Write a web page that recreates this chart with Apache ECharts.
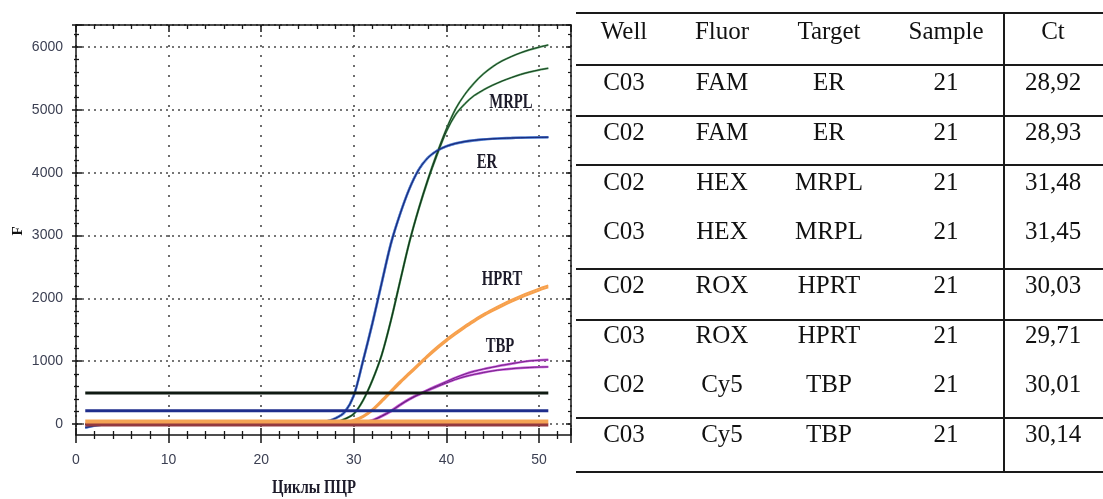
<!DOCTYPE html>
<html>
<head>
<meta charset="utf-8">
<script src="https://cdn.jsdelivr.net/npm/echarts@6/dist/echarts.min.js"></script>
<style>
html,body{margin:0;padding:0;background:#fff;}
#c{width:1103px;height:499px;}
</style>
</head>
<body>
<div id="c"></div>
<script>
// ---------------- DATA ----------------
const cycles = [1,2,3,4,5,6,7,8,9,10,11,12,13,14,15,16,17,18,19,20,21,22,23,24,25,26,27,28,29,30,31,32,33,34,35,36,37,38,39,40,41,42,43,44,45,46,47,48,49,50,51];

const erC03 = [-60,-30,-10,0,0,0,0,0,0,0, 0,0,0,0,0,0,0,0,0,0, 0,0,0,0,5,12,40,90,190,460, 1020,1610,2250,2880,3350,3750,4050,4240,4350,4420, 4465,4495,4515,4530,4540,4548,4553,4558,4562,4565, 4568];
const erC02 = [-55,-25,-8,0,0,0,0,0,0,0, 0,0,0,0,0,0,0,0,0,0, 0,0,0,0,4,10,38,88,185,450, 1000,1590,2230,2860,3340,3740,4045,4240,4355,4425, 4470,4500,4520,4533,4542,4550,4555,4558,4561,4563, 4565];
const mrplC02 = [0,0,0,0,0,0,0,0,0,0, 0,0,0,0,0,0,0,0,0,0, 0,0,0,0,0,5,10,25,80,165, 380,700,1100,1650,2280,2900,3430,3900,4320,4700, 5020,5250,5430,5575,5690,5780,5850,5910,5960,6000, 6035];
const mrplC03 = [0,0,0,0,0,0,0,0,0,0, 0,0,0,0,0,0,0,0,0,0, 0,0,0,0,0,4,9,22,75,160, 375,690,1090,1640,2270,2890,3415,3880,4290,4660, 4930,5100,5230,5320,5395,5460,5515,5565,5605,5638, 5664];
const hprtC02 = [0,0,0,0,0,0,0,0,0,0, 0,0,0,0,0,0,0,0,0,0, 0,0,0,0,0,0,5,10,20,50, 110,210,350,500,650,790,930,1070,1200,1320, 1430,1535,1630,1720,1800,1875,1945,2010,2070,2125, 2175];
const hprtC03 = [0,0,0,0,0,0,0,0,0,0, 0,0,0,0,0,0,0,0,0,0, 0,0,0,0,0,0,6,14,28,65, 130,235,380,530,680,820,960,1100,1230,1350, 1460,1565,1660,1750,1830,1905,1975,2040,2100,2155, 2205];
const tbpC02 = [0,0,0,0,0,0,0,0,0,0, 0,0,0,0,0,0,0,0,0,0, 0,0,0,0,0,0,0,5,10,15, 25,60,130,210,310,400,475,545,610,675, 740,795,840,875,905,935,960,985,1005,1015, 1022];
const tbpC03 = [0,0,0,0,0,0,0,0,0,0, 0,0,0,0,0,0,0,0,0,0, 0,0,0,0,0,0,0,4,8,12, 20,55,120,200,300,390,465,535,595,655, 710,755,790,820,845,865,880,892,900,906, 910];

// threshold / baseline lines (Fluor channels)
const thresholdNames = ['HEX', 'FAM', 'ROX', 'Cy5'];
const thresholdValues = [495, 210, 37, -15];
const thresholdCycles = [1, 51];

// curve labels
const curveLabels = ['MRPL', 'ER', 'HPRT', 'TBP'];

// axis ticks
const xTickInterval = 10;
const yTickInterval = 1000;
const xAxisTitle = 'Циклы ПЦР';
const yAxisTitle = 'F';

// table
const tableHeader = ['Well', 'Fluor', 'Target', 'Sample', 'Ct'];
const wells   = ['C03', 'C02', 'C02', 'C03', 'C02', 'C03', 'C02', 'C03'];
const fluors  = ['FAM', 'FAM', 'HEX', 'HEX', 'ROX', 'ROX', 'Cy5', 'Cy5'];
const targets = ['ER', 'ER', 'MRPL', 'MRPL', 'HPRT', 'HPRT', 'TBP', 'TBP'];
const samples = ['21', '21', '21', '21', '21', '21', '21', '21'];
const cts     = ['28,92', '28,93', '31,48', '31,45', '30,03', '29,71', '30,01', '30,14'];

// ---------------- LAYOUT / STYLE ----------------
const X_MAX = 53.45, Y_MIN = -175, Y_MAX = 6353;
const axisColor = '#151515';
const labelFont = {fontFamily: '"Liberation Sans Narrow","Liberation Sans",Arial,sans-serif', fontSize: 14, color: '#3b3f52',
  formatter: v => String(v)};

function pts(vals) { return cycles.map((c, i) => [c, vals[i]]); }

function curve(vals, halo, haloW, core, coreW) {
  const out = [{
    type: 'line', xAxisIndex: 0, yAxisIndex: 0, data: pts(vals), smooth: 0.3,
    showSymbol: false, symbol: 'none', silent: true, z: 2,
    lineStyle: {color: halo, width: haloW}
  }];
  if (core) out.push({
    type: 'line', xAxisIndex: 0, yAxisIndex: 0, data: pts(vals), smooth: 0.3,
    showSymbol: false, symbol: 'none', silent: true, z: 3,
    lineStyle: {color: core, width: coreW}
  });
  return out;
}

const thresholdStyles = [
  {color: '#0f1a12', width: 3},
  {color: '#1f2e8c', width: 3},
  {color: '#f4a354', width: 4.5},
  {color: '#93393f', width: 3}
];

let series = [];
series = series.concat(curve(hprtC02, '#f7a04c', 2.0));
series = series.concat(curve(hprtC03, '#f7a04c', 2.0));
series = series.concat(curve(tbpC02, '#c858da', 2.4, '#5b1b6e', 0.8));
series = series.concat(curve(tbpC03, '#c858da', 2.4, '#5b1b6e', 0.8));
series = series.concat(curve(mrplC02, '#5aa066', 2.0, '#10301a', 0.9));
series = series.concat(curve(mrplC03, '#5aa066', 2.0, '#10301a', 0.9));
series = series.concat(curve(erC03, '#5a86d4', 2.4, '#1a2d80', 1.0));
series = series.concat(curve(erC02, '#5a86d4', 2.4, '#1a2d80', 1.0));

thresholdValues.forEach((v, i) => {
  series.push({
    type: 'line', name: thresholdNames[i], xAxisIndex: 0, yAxisIndex: 0,
    data: thresholdCycles.map(c => [c, v]),
    showSymbol: false, symbol: 'none', silent: true, z: 5,
    lineStyle: thresholdStyles[i]
  });
});

const noLine = {show: false, onZero: false};
const frameLine = {show: true, onZero: false, lineStyle: {color: axisColor, width: 1.5}};
const tickStyle = {color: axisColor, width: 1.5};

const xBase = {type: 'value', min: 0, max: X_MAX, interval: xTickInterval, gridIndex: 0};
const yBase1 = {type: 'value', min: 0, max: Y_MAX, interval: yTickInterval, gridIndex: 1};

const xAxes = [
  Object.assign({}, xBase, {position: 'bottom', axisLine: frameLine, axisTick: {show: false}, minorTick: {show: false},
    axisLabel: Object.assign({margin: 18, showMaxLabel: false}, labelFont),
    splitLine: {show: true, lineStyle: {type: [2, 8], color: '#4a4a4a', width: 1.6}}}),
  Object.assign({}, xBase, {position: 'bottom', offset: -7, axisLine: noLine,
    axisTick: {show: true, length: 15, lineStyle: tickStyle}, axisLabel: {show: false}, splitLine: {show: false}}),
  Object.assign({}, xBase, {position: 'bottom', offset: -4, axisLine: noLine, axisTick: {show: false},
    minorTick: {show: true, splitNumber: 5, length: 8, lineStyle: {color: axisColor, width: 1.3}},
    axisLabel: {show: false}, splitLine: {show: false}}),
  Object.assign({}, xBase, {position: 'top', axisLine: frameLine,
    axisTick: {show: true, inside: true, length: 7, lineStyle: tickStyle},
    minorTick: {show: true, splitNumber: 5, length: 4, lineStyle: {color: axisColor, width: 1.3}},
    axisLabel: {show: false}, splitLine: {show: false}}),
  {type: 'value', gridIndex: 1, min: 0, max: X_MAX, show: false}
];

const yAxes = [
  {type: 'value', gridIndex: 0, min: Y_MIN, max: Y_MAX, position: 'left', axisLine: frameLine,
    axisTick: {show: false}, axisLabel: {show: false}, splitLine: {show: false}},
  {type: 'value', gridIndex: 0, min: Y_MIN, max: Y_MAX, position: 'right', axisLine: frameLine,
    axisTick: {show: false}, axisLabel: {show: false}, splitLine: {show: false}},
  Object.assign({}, yBase1, {position: 'left', axisLine: noLine, axisTick: {show: false},
    axisLabel: Object.assign({margin: 13, showMaxLabel: false}, labelFont),
    splitLine: {show: true, lineStyle: {type: [2, 4], color: '#4a4a4a', width: 1.6}}}),
  Object.assign({}, yBase1, {position: 'left', offset: -6, axisLine: noLine,
    axisTick: {show: true, length: 10, lineStyle: tickStyle}, axisLabel: {show: false}, splitLine: {show: false}}),
  Object.assign({}, yBase1, {position: 'left', offset: -3, axisLine: noLine, axisTick: {show: false},
    minorTick: {show: true, splitNumber: 5, length: 5, lineStyle: {color: axisColor, width: 1.3}},
    axisLabel: {show: false}, splitLine: {show: false}}),
  Object.assign({}, yBase1, {position: 'right', axisLine: noLine,
    axisTick: {show: true, inside: true, length: 5, lineStyle: tickStyle},
    minorTick: {show: true, splitNumber: 5, length: 3, lineStyle: {color: axisColor, width: 1.2}},
    axisLabel: {show: false}, splitLine: {show: false}})
];

// ---- graphic: curve labels, axis titles, table ----
const curveLabelPos = [[511, 102], [487, 162], [502, 279], [500, 346]];
const labelFontStr = 'bold 22px "Liberation Serif", "Times New Roman", serif';
const graphics = [];
curveLabels.forEach((t, i) => {
  graphics.push({type: 'text', x: curveLabelPos[i][0], y: curveLabelPos[i][1], scaleX: 0.67, z: 10,
    style: {text: t, font: labelFontStr, fill: '#1d1b2a', align: 'center', verticalAlign: 'middle'}});
});
graphics.push({type: 'text', x: 314, y: 488, scaleX: 0.82, z: 10,
  style: {text: xAxisTitle, font: 'bold 18px "Liberation Serif", serif', fill: '#1d1b2a', align: 'center', verticalAlign: 'middle'}});
graphics.push({type: 'text', x: 18, y: 231, rotation: Math.PI / 2, z: 10,
  style: {text: yAxisTitle, font: 'bold 15px "Liberation Serif", serif', fill: '#111', align: 'center', verticalAlign: 'middle'}});

// table layout
const tableLeft = 576, tableRight = 1103, ctDividerX = 1004;
const colX = [624, 722, 829, 946, 1053];
const headerY = 32;
const rowY = [83, 133, 183, 232, 286, 336, 385, 435];
const hLineY = [13, 65, 116, 165, 269, 320, 418, 472];
const tableFont = '25px "Liberation Serif", "Times New Roman", serif';
hLineY.forEach(y => {
  graphics.push({type: 'line', shape: {x1: tableLeft, y1: y, x2: tableRight, y2: y}, style: {stroke: '#1a1a1a', lineWidth: 2}});
});
graphics.push({type: 'line', shape: {x1: ctDividerX, y1: hLineY[0], x2: ctDividerX, y2: hLineY[hLineY.length - 1]}, style: {stroke: '#1a1a1a', lineWidth: 2}});
tableHeader.forEach((h, j) => {
  graphics.push({type: 'text', x: colX[j], y: headerY, style: {text: h, font: tableFont, fill: '#111', align: 'center', verticalAlign: 'middle'}});
});
const cols = [wells, fluors, targets, samples, cts];
cols.forEach((col, j) => {
  col.forEach((v, i) => {
    graphics.push({type: 'text', x: colX[j], y: rowY[i], style: {text: v, font: tableFont, fill: '#111', align: 'center', verticalAlign: 'middle'}});
  });
});

const chart = echarts.init(document.getElementById('c'), null, {renderer: 'canvas'});
chart.setOption({
  animation: false,
  backgroundColor: '#fff',
  grid: [
    {left: 76, right: 532, top: 25, bottom: 64, containLabel: false},
    {left: 76, right: 532, top: 25, bottom: 75, containLabel: false}
  ],
  xAxis: xAxes,
  yAxis: yAxes,
  series: series,
  graphic: graphics
});
</script>
</body>
</html>
